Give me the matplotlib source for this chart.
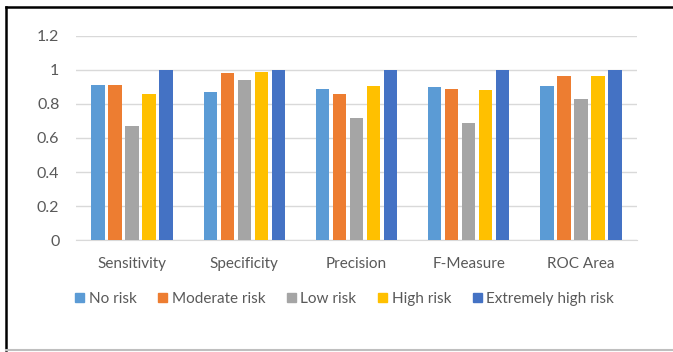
import numpy as np
import matplotlib.pyplot as plt
from matplotlib.patches import Patch
from matplotlib.lines import Line2D

categories = ['Sensitivity', 'Specificity', 'Precision', 'F-Measure', 'ROC Area']
series_names = ['No risk', 'Moderate risk', 'Low risk', 'High risk', 'Extremely high risk']
no_risk = [0.91, 0.87, 0.89, 0.90, 0.905]
moderate_risk = [0.91, 0.98, 0.86, 0.89, 0.965]
low_risk = [0.67, 0.94, 0.72, 0.69, 0.83]
high_risk = [0.86, 0.99, 0.905, 0.88, 0.965]
extreme_risk = [1.0, 1.0, 1.0, 1.0, 1.0]
colors = ['#5B9BD5', '#ED7D31', '#A5A5A5', '#FFC000', '#4472C4']

plt.rcParams['font.family'] = ['Lato', 'DejaVu Sans']

fig = plt.figure(figsize=(6.73, 3.52), dpi=100)
ax = fig.add_axes([0.113, 0.318, 0.8335, 0.58])

x = np.arange(len(categories))
slot = 0.1515
width = 0.12
all_series = [no_risk, moderate_risk, low_risk, high_risk, extreme_risk]
for i, vals in enumerate(all_series):
    ax.bar(x + (i - 2) * slot, vals, width=width, color=colors[i], zorder=3)

ax.set_xlim(-0.5, len(categories) - 0.5)
ax.set_ylim(0, 1.2)
ax.set_yticks(np.arange(0, 1.21, 0.2))
ax.set_yticklabels(['0', '0.2', '0.4', '0.6', '0.8', '1', '1.2'])
ax.set_xticks(x)
ax.set_xticklabels(categories)
ax.grid(axis='y', color='#D9D9D9', linewidth=1, zorder=0)
for s in ['top', 'right', 'left']:
    ax.spines[s].set_visible(False)
ax.spines['bottom'].set_color('#D9D9D9')
ax.tick_params(axis='both', length=0, colors='#595959', labelsize=11)
ax.tick_params(axis='x', pad=12)
ax.tick_params(axis='y', pad=12, labelsize=11.5)

handles = [Patch(color=c) for c in colors]
fig.legend(handles, series_names, loc='center', bbox_to_anchor=(0.512, 0.151), ncol=5,
           frameon=False, fontsize=11, labelcolor='#595959', handlelength=0.6,
           handleheight=0.6, handletextpad=0.3, columnspacing=1.4)

# outer frame like the screenshot
fig.add_artist(Line2D([5.5 / 673, 5.5 / 673], [2 / 352, 1 - 7 / 352], color='black', linewidth=1.8))
fig.add_artist(Line2D([5.5 / 673, 1], [1 - 7 / 352, 1 - 7 / 352], color='black', linewidth=1.8))
fig.add_artist(Line2D([5.5 / 673, 1], [2 / 352, 2 / 352], color='#BFBFBF', linewidth=1.5))

fig.savefig('out.png', dpi=100)
